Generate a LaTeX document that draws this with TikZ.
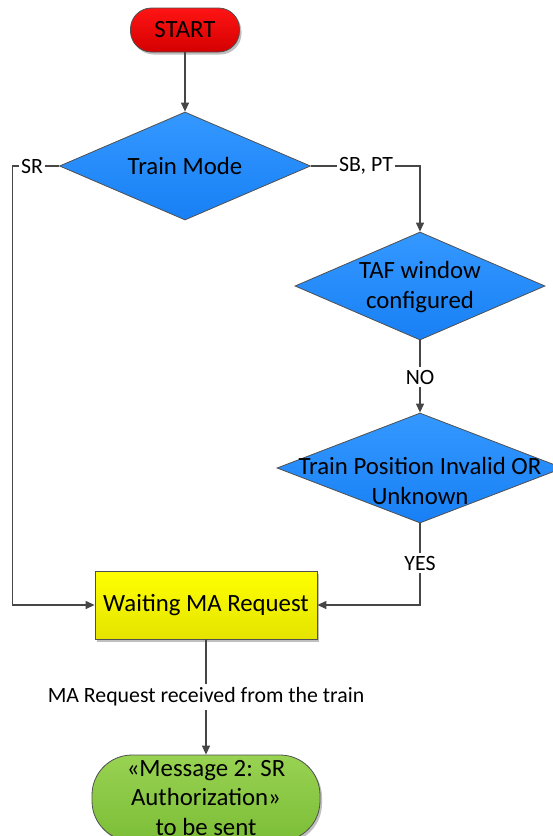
\documentclass[tikz,border=0pt]{standalone}
\usepackage{fontspec}
\setmainfont{Carlito}
\usetikzlibrary{shapes.geometric,arrows.meta,shadows}
\definecolor{redT}{RGB}{255,20,20}
\definecolor{redB}{RGB}{212,0,0}
\definecolor{blueT}{RGB}{52,152,255}
\definecolor{blueB}{RGB}{24,128,245}
\definecolor{yellowT}{RGB}{255,255,0}
\definecolor{yellowB}{RGB}{228,228,0}
\definecolor{greenT}{RGB}{152,210,82}
\definecolor{greenB}{RGB}{124,190,55}
\definecolor{edgeg}{RGB}{80,80,80}
\definecolor{lineg}{RGB}{70,70,70}
\begin{document}
\begin{tikzpicture}[x=1pt,y=-1pt,
  line/.style={draw=lineg, line width=1.2pt},
  arr/.style={line, -{Triangle[length=9pt,width=8pt]}},
  mainfont/.style={font=\fontsize{24.8}{29.5}\selectfont},
  lab/.style={font=\fontsize{21.8}{25}\selectfont, inner xsep=1.5pt, inner ysep=3pt},
  shad/.style={drop shadow={shadow xshift=2pt, shadow yshift=-2.5pt, opacity=0.25, fill=black}},
  dia/.style={diamond, draw=edgeg, line width=0.8pt, inner sep=0pt, top color=blueT, bottom color=blueB},
  startbox/.style={rectangle, rounded corners=21pt, draw=edgeg, line width=0.8pt, top color=redT, bottom color=redB, minimum width=109pt, minimum height=44pt, inner sep=0pt, mainfont, shad},
  procbox/.style={rectangle, draw=edgeg, line width=0.8pt, top color=yellowT, bottom color=yellowB, minimum width=222pt, minimum height=68pt, inner sep=0pt, mainfont, shad},
  endbox/.style={rectangle, rounded corners=40pt, draw=edgeg, line width=0.8pt, top color=greenT, bottom color=greenB, minimum width=228pt, minimum height=86pt, inner sep=0pt, align=center, mainfont, shad}
]
\useasboundingbox (0,0) rectangle (553,836);
\fill[white] (0,0) rectangle (553,836);

\node[startbox] (start) at (185,30) {START};

\node[dia, minimum width=251pt, minimum height=108pt] (tm) at (185,166) {};
\node[mainfont] (tmt) at (185,166) {Train Mode};

\node[dia, minimum width=250pt, minimum height=108pt] (taf) at (420,286) {};
\node[mainfont, align=center] (taft) at (420,287) {TAF window\\configured};

\node[dia, minimum width=286pt, minimum height=110pt] (pos) at (420,468) {};
\node[mainfont, align=center] (post) at (420,481) {Train Position Invalid OR\\Unknown};

\node[procbox] (box) at (206,605) {Waiting MA Request};
\node[endbox] (end) at (206,798) {«Message 2: SR\\Authorization»\\to be sent};

\node[lab] (srl) at (32,166) {SR};
\node[lab] (sbl) at (366,166) {SB, PT};
\node[lab] (nol) at (420,377) {NO};
\node[lab] (yesl) at (420,563) {YES};
\node[lab] (mal) at (206,697) {MA Request received from the train};
\coordinate (cl) at (12.5,605);

\draw[arr] (start.south) -- (tm.north);
\draw[line] (tm.west) -- (srl.east);
\draw[arr] (srl.west) -| (cl) -- (box.west);
\draw[line] (tm.east) -- (sbl.west);
\draw[arr] (sbl.east) -| (taf.north);
\draw[line] (taf.south) -- (nol.north);
\draw[arr] (nol.south) -- (pos.north);
\draw[line] (pos.south) -- (yesl.north);
\draw[arr] (yesl.south) |- (box.east);
\draw[line] (box.south) -- (mal.north);
\draw[arr] (mal.south) -- (end.north);
\end{tikzpicture}
\end{document}
